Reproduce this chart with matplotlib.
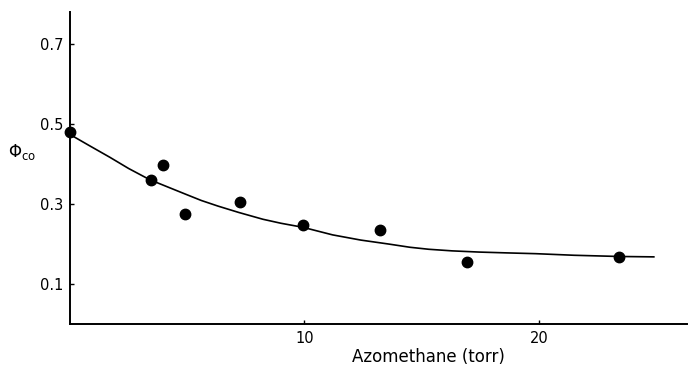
import numpy as np
import matplotlib
matplotlib.use("Agg")
import matplotlib.pyplot as plt

# measured points
PRESSURE = [0.0, 3.45, 3.97, 4.92, 7.26, 9.93, 13.2, 16.95, 23.43]
PHI_CO = [0.479, 0.361, 0.397, 0.275, 0.305, 0.247, 0.236, 0.154, 0.168]

# smooth curve drawn through the data
CURVE_X = [0.0, 0.8, 1.7, 2.5, 3.4, 4.2, 4.96, 5.6, 6.31, 7.2, 8.23, 9.0,
           9.93, 11.2, 12.4, 13.6, 14.5, 15.3, 16.3, 17.45, 18.6, 19.86,
           21.5, 23.4, 24.9]
CURVE_Y = [0.474, 0.447, 0.417, 0.389, 0.361, 0.342, 0.324, 0.309, 0.295,
           0.279, 0.262, 0.252, 0.242, 0.223, 0.210, 0.200, 0.192, 0.187,
           0.183, 0.180, 0.178, 0.176, 0.172, 0.169, 0.168]

XTICKS = [10, 20]
YTICKS = [0.1, 0.3, 0.5, 0.7]

XLABEL = "Azomethane (torr)"
YLABEL = r"$\Phi_{\rm co}$"


def plot_quantum_yield() -> plt.Figure:
    fig = plt.figure(figsize=(6.89, 3.67), dpi=100)
    ax = fig.add_axes([0.1016, 0.117, 0.895, 0.85])

    ax.plot(CURVE_X, CURVE_Y, color="black", linewidth=1.2)
    ax.plot(PRESSURE, PHI_CO, "o", color="black", markersize=7.5, clip_on=False)

    ax.set_xlim(0, 26.3)
    ax.set_ylim(0, 0.78)
    ax.set_xticks(XTICKS)
    ax.set_yticks(YTICKS)
    ax.set_yticklabels([f"{v:.1f}" for v in YTICKS])

    for side in ["top", "right"]:
        ax.spines[side].set_visible(False)
    for side in ["left", "bottom"]:
        ax.spines[side].set_linewidth(1.4)

    ax.tick_params(axis="both", direction="in", length=3, width=1,
                   labelsize=10.5, colors="black")
    ax.tick_params(axis="y", pad=5)
    ax.tick_params(axis="x", pad=5)

    ax.set_xlabel(XLABEL, fontsize=12, va="center")
    ax.xaxis.set_label_coords((429 - 70) / 617, -(357 - 324) / 312)
    fig.text(0.032, (367 - 152) / 367, YLABEL, fontsize=12, ha="center", va="center")

    return fig


def main():
    fig = plot_quantum_yield()
    fig.savefig("out.png", dpi=100)


if __name__ == "__main__":
    main()
